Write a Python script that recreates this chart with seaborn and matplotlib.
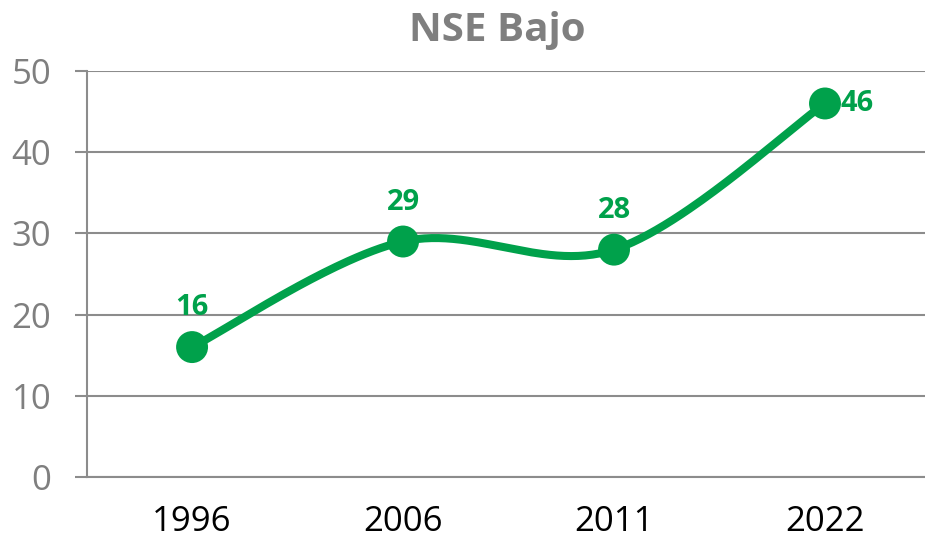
import numpy as np
import pandas as pd
import matplotlib
matplotlib.use('Agg')
import matplotlib.pyplot as plt
import seaborn as sns

# ================= datos =================
years = ['1996', '2006', '2011', '2022']
valores = [16, 29, 28, 46]
titulo = 'NSE Bajo'

VERDE = '#00a14b'
GRIS = '#8c8c8c'
GRIS_TXT = '#7f7f7f'

sns.set_theme(style='white')
plt.rcParams['font.family'] = ['Open Sans', 'DejaVu Sans']

fig = plt.figure(figsize=(9.25, 5.41), dpi=100)
fig.patch.set_facecolor('white')
ax = fig.add_axes([87 / 925, 1 - 477 / 541, (925 - 87) / 925, (477 - 71) / 541])

x = np.arange(len(years), dtype=float)
y = np.array(valores, dtype=float)

# ----- curva suavizada (tipo Excel, Catmull-Rom en espacio de pantalla) -----
sx = 211 / 8.12  # relacion px por categoria / px por unidad
px = x * sx
pts = np.column_stack([px, y])
curva = []
for i in range(len(pts) - 1):
    p0 = pts[i - 1] if i > 0 else pts[i]
    p1 = pts[i]
    p2 = pts[i + 1]
    p3 = pts[i + 2] if i + 2 < len(pts) else pts[i + 1]
    c1 = p1 + (p2 - p0) / 6
    c2 = p2 - (p3 - p1) / 6
    t = np.linspace(0, 1, 60)[:, None]
    seg = (1 - t) ** 3 * p1 + 3 * (1 - t) ** 2 * t * c1 + 3 * (1 - t) * t ** 2 * c2 + t ** 3 * p2
    curva.append(seg if i == 0 else seg[1:])
curva = np.vstack(curva)
df_curva = pd.DataFrame({'x': curva[:, 0] / sx, 'y': curva[:, 1]})

sns.lineplot(ax=ax, data=df_curva, x='x', y='y', color=VERDE, lw=5.8, sort=False,
             solid_capstyle='round', zorder=3)

df = pd.DataFrame({'pos': x, 'valor': valores})
sns.scatterplot(ax=ax, data=df, x='pos', y='valor', color=VERDE, s=23 ** 2,
                edgecolor='none', zorder=4)

# etiquetas de datos
for i, v in enumerate(valores):
    if i == len(valores) - 1:
        ax.text(x[i] + 0.075, v, f'{v}', color=VERDE, fontsize=21, fontweight='bold',
                ha='left', va='center', zorder=5)
    else:
        ax.text(x[i], v + 4.85, f'{v}', color=VERDE, fontsize=21, fontweight='bold',
                ha='center', va='center', zorder=5)

# ----- ejes -----
ax.set_xlim(-0.498, 3.474)
ax.set_ylim(0, 50)
ax.set_yticks(range(0, 51, 10))
ax.set_xticks(x)
ax.set_xticklabels(years)
ax.set_xlabel('')
ax.set_ylabel('')

ax.yaxis.grid(True, color=GRIS, lw=1.5)
ax.xaxis.grid(False)
for s in ['top', 'right']:
    ax.spines[s].set_visible(False)
ax.spines['left'].set_color(GRIS)
ax.spines['left'].set_linewidth(1.5)
ax.spines['bottom'].set_color(GRIS)
ax.spines['bottom'].set_linewidth(1.5)

ax.tick_params(axis='y', length=8.6, width=1.5, color=GRIS, pad=17,
               labelsize=25, labelcolor=GRIS_TXT, left=True)
ax.tick_params(axis='x', length=0, pad=20, labelsize=25, labelcolor='black')

fig.text(497 / 925, 1 - 31 / 541, titulo, ha='center', va='center',
         fontsize=29, fontweight='bold', color=GRIS_TXT)

plt.savefig('out.png', dpi=100, facecolor='white')
